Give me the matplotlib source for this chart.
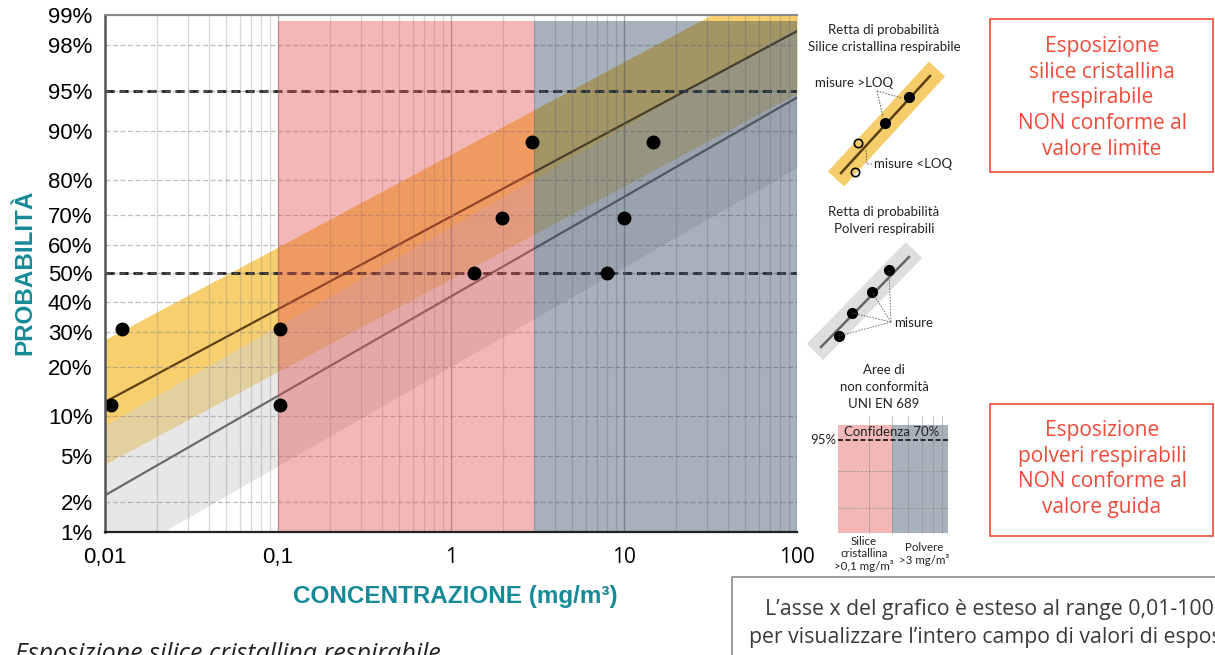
import math
import numpy as np
import matplotlib
matplotlib.use("Agg")
import matplotlib.pyplot as plt
from matplotlib.patches import Polygon, Rectangle
from matplotlib.ticker import FixedLocator, NullLocator, NullFormatter

# ---------------------------------------------------------------- data
# measured concentrations (mg/m3) and their plotting positions (Blom, n=5)
silica_conc = [0.0109, 0.0126, 1.36, 1.96, 2.95]
silica_prob = [0.119, 0.310, 0.500, 0.690, 0.881]
dust_conc = [0.103, 0.103, 8.0, 10.0, 14.7]
dust_prob = [0.119, 0.310, 0.500, 0.690, 0.881]

# log-normal probability lines: geometric mean, geometric std. deviation,
# half width of the confidence band (in standard-normal units)
silica_gm, silica_gsd, silica_band = 0.243, 15.8, 0.56
dust_gm, dust_gsd, dust_band = 1.70, 13.1, 0.63

# non-conformity thresholds (mg/m3)
silica_limit = 0.1
dust_limit = 3.0

x_ticks = [0.01, 0.1, 1, 10, 100]
x_tick_labels = ["0,01", "0,1", "1", "10", "100"]
y_ticks = [0.01, 0.02, 0.05, 0.10, 0.20, 0.30, 0.40, 0.50, 0.60, 0.70,
           0.80, 0.90, 0.95, 0.98, 0.99]
y_tick_labels = ["1%", "2%", "5%", "10%", "20%", "30%", "40%", "50%", "60%",
                 "70%", "80%", "90%", "95%", "98%", "99%"]
ref_levels = [0.50, 0.95]


# ------------------------------------------------- normal probability scale
_erf = np.vectorize(math.erf, otypes=[float])


def norm_cdf(z):
    z = np.asarray(z, dtype=float)
    return 0.5 * (1.0 + _erf(z / math.sqrt(2.0)))


def norm_ppf(p):
    p = np.clip(np.asarray(p, dtype=float), 1e-12, 1 - 1e-12)
    lo = np.full(p.shape, -9.0)
    hi = np.full(p.shape, 9.0)
    for _ in range(55):
        mid = 0.5 * (lo + hi)
        below = norm_cdf(mid) < p
        lo = np.where(below, mid, lo)
        hi = np.where(below, hi, mid)
    return 0.5 * (lo + hi)


def line_z(x, gm, gsd):
    return np.log(np.asarray(x, dtype=float) / gm) / np.log(gsd)


# ---------------------------------------------------------------- figure
W, H = 1215, 655
fig = plt.figure(figsize=(W / 100, H / 100), dpi=100)
fig.patch.set_facecolor("white")

ax = fig.add_axes([105 / W, (H - 532) / H, 692 / W, 517 / H])
ax.set_xscale("log")
ax.set_yscale("function", functions=(norm_ppf, norm_cdf))
ax.set_xlim(0.01, 100)
ax.set_ylim(0.01, 0.99)

xs = np.array([0.01, 100.0])

# confidence bands
zs = line_z(xs, silica_gm, silica_gsd)
ax.fill_between(xs, norm_cdf(zs - silica_band), norm_cdf(zs + silica_band),
                color="#F7CF6E", lw=0, zorder=1)
zd = line_z(xs, dust_gm, dust_gsd)
ax.fill_between(xs, norm_cdf(zd - dust_band), norm_cdf(zd + dust_band),
                color="#D1D1D1", alpha=0.5, lw=0, zorder=1.2)

# grid
ax.xaxis.set_major_locator(FixedLocator(x_ticks))
ax.xaxis.set_minor_locator(FixedLocator(
    [m * 10.0 ** k for k in range(-2, 2) for m in range(2, 10)]))
ax.xaxis.set_minor_formatter(NullFormatter())
ax.yaxis.set_major_locator(FixedLocator(y_ticks))
ax.yaxis.set_minor_locator(NullLocator())
ax.grid(axis="x", which="minor", color="#7F7F7F", alpha=0.3, lw=0.9)
ax.grid(axis="x", which="major", color="#6F6F6F", alpha=0.55, lw=1.0)
ax.grid(axis="y", which="major", color="#8C8C8C", alpha=0.55, lw=0.9,
        ls=(0, (4, 2)))
ax.set_axisbelow(False)
for gl in ax.get_xgridlines() + ax.get_ygridlines():
    gl.set_zorder(1.5)

# probability lines
ax.plot(xs, norm_cdf(zs), color="#5E4012", lw=1.6, zorder=2)
ax.plot(xs, norm_cdf(zd), color="#6A6A6A", lw=1.6, zorder=2)

# reference levels
for lvl in ref_levels:
    ax.axhline(lvl, color="#111111", lw=1.9, dashes=(3.5, 1.8), zorder=2.5)

# non-conformity areas
zone_top = 0.9885
ax.fill_between([silica_limit, dust_limit], 0.01, zone_top,
                color="#E14B4B", alpha=0.4, lw=0, zorder=3)
ax.fill_between([dust_limit, 100], 0.01, zone_top,
                color="#253E57", alpha=0.4, lw=0, zorder=3)

# measurements
ax.plot(silica_conc, silica_prob, "o", color="black", ms=9, zorder=5)
ax.plot(dust_conc, dust_prob, "o", color="black", ms=9, zorder=5)

# axes styling
ax.spines["right"].set_visible(False)
ax.spines["top"].set_color("#8A8A8A")
ax.spines["top"].set_linewidth(1.5)
ax.spines["left"].set_color("#555555")
ax.spines["left"].set_linewidth(1.8)
ax.spines["bottom"].set_color("#222222")
ax.spines["bottom"].set_linewidth(1.6)
for sp in ax.spines.values():
    sp.set_zorder(6)

ax.set_xticklabels(x_tick_labels)
ax.set_yticklabels(y_tick_labels)
ax.tick_params(axis="both", which="both", length=0)
ax.tick_params(axis="x", pad=11)
ax.tick_params(axis="y", pad=9)
for lab in ax.get_yticklabels():
    lab.set_fontfamily("Liberation Sans")
    lab.set_fontsize(16)
for lab, txt in zip(ax.get_xticklabels(), x_tick_labels):
    if txt.startswith("0"):
        lab.set_fontfamily("Liberation Sans")
        lab.set_fontsize(16)
    else:
        lab.set_fontfamily("Open Sans")
        lab.set_fontsize(15)

# ------------------------------------------------------- overlay (pixels)
ov = fig.add_axes([0, 0, 1, 1], zorder=10)
ov.set_xlim(0, W)
ov.set_ylim(H, 0)
ov.axis("off")
ov.patch.set_visible(False)

teal = "#178A97"
ov.text(25, 272, "PROBABILITÀ", rotation=90, ha="center", va="center",
        color=teal, fontsize=17.5, fontweight="bold", family="Liberation Sans")
ov.text(455, 596, "CONCENTRAZIONE (mg/m³)", ha="center", va="center",
        color=teal, fontsize=17.5, fontweight="bold", family="Liberation Sans")

small = dict(family="Lato", fontsize=9.5, color="#222222")
tiny = dict(family="Lato", fontsize=8.3, color="#222222")


def strip(p0, p1, hw, color):
    p0 = np.array(p0, float)
    p1 = np.array(p1, float)
    d = p1 - p0
    n = np.array([-d[1], d[0]]) / np.hypot(*d) * hw
    ov.add_patch(Polygon([p0 + n, p1 + n, p1 - n, p0 - n], closed=True,
                         facecolor=color, edgecolor="none"))


# legend: silica probability line
ov.text(884, 30, "Retta di probabilità", ha="center", va="center", **small)
ov.text(884, 47, "Silice cristallina respirabile", ha="center", va="center", **small)
strip((836, 179), (937, 69), 11, "#F5CD6A")
ov.plot([841, 930], [173, 76], color="#5A4010", lw=1.8)
ov.plot([885, 909], [123, 97], "o", color="black", ms=7)
ov.plot([858, 855], [143, 172], "o", mfc="none", mec="black", mew=1.2, ms=6)
ov.text(815, 83, "misure >LOQ", ha="left", va="center", **small)
ov.plot([877, 883], [91, 117], color="#555555", lw=0.6, ls=(0, (2, 1.5)))
ov.plot([877, 902], [91, 98], color="#555555", lw=0.6, ls=(0, (2, 1.5)))
ov.plot([866, 867, 872], [150, 164, 164], color="#555555", lw=0.6,
        ls=(0, (2, 1.5)))
ov.text(874, 164, "misure <LOQ", ha="left", va="center", **small)

# legend: dust probability line
ov.text(884, 212, "Retta di probabilità", ha="center", va="center", **small)
ov.text(884, 229, "Polveri respirabili", ha="center", va="center", **small)
strip((815, 352), (914, 250), 11.5, "#DEDEDE")
ov.plot([821, 909], [347, 257], color="#666666", lw=1.8)
mx = [839, 852, 872, 889]
my = [336, 313, 292, 270]
ov.plot(mx, my, "o", color="black", ms=7)
for px, py in zip(mx, my):
    ov.plot([891, px], [322, py], color="#666666", lw=0.6, ls=(0, (2, 1.5)))
ov.text(894, 323, "misure", ha="left", va="center", **small)

# legend: non-conformity areas
ov.text(884, 370, "Aree di", ha="center", va="center", **small)
ov.text(884, 387, "non conformità", ha="center", va="center", **small)
ov.text(884, 404, "UNI EN 689", ha="center", va="center", **small)
ov.add_patch(Rectangle((838, 425), 54, 108, facecolor="#F3B7B7", edgecolor="none"))
ov.add_patch(Rectangle((892, 425), 56, 108, facecolor="#A8B2BC", edgecolor="none"))
for vx in [869, 892, 908, 922, 933, 942]:
    ov.plot([vx, vx], [416, 533], color="#8A8A8A", lw=0.6, alpha=0.6)
for hy in [471, 508]:
    ov.plot([838, 948], [hy, hy], color="#8A8A8A", lw=0.6, alpha=0.7,
            ls=(0, (3, 1.5)))
ov.plot([838, 948], [440, 440], color="#111111", lw=1.2, dashes=(3, 1.5))
ov.text(836, 440, "95%", ha="right", va="center", **small)
ov.text(892, 432, "Confidenza 70%", ha="center", va="center", **small)
ov.text(864, 554, "Silice\ncristallina\n>0,1 mg/m³", ha="center", va="center",
        linespacing=1.1, **tiny)
ov.text(924, 554, "Polvere\n>3 mg/m³", ha="center", va="center",
        linespacing=1.1, **tiny)

# red notes
red = "#EF4B3A"
ov.add_patch(Rectangle((990, 19), 223, 153, facecolor="none", edgecolor=red, lw=1.2))
ov.text(1102, 98, "Esposizione\nsilice cristallina\nrespirabile\nNON conforme al\nvalore limite",
        ha="center", va="center", color=red, family="Open Sans", fontsize=15,
        linespacing=1.3)
ov.add_patch(Rectangle((990, 404), 223, 132, facecolor="none", edgecolor=red, lw=1.2))
ov.text(1102, 469, "Esposizione\npolveri respirabili\nNON conforme al\nvalore guida",
        ha="center", va="center", color=red, family="Open Sans", fontsize=15,
        linespacing=1.3)

# bottom notes
ov.plot([732, 732, W + 5], [H + 5, 577, 577], color="#8C8C8C", lw=1.2)
ov.text(765, 609, "L’asse x del grafico è esteso al range 0,01-100",
        ha="left", va="center", color="#3A3A3A", family="Open Sans", fontsize=15.3)
ov.text(749, 637, "per visualizzare l’intero campo di valori di esposizione",
        ha="left", va="center", color="#3A3A3A", family="Open Sans", fontsize=15.3)
ov.text(15, 661, "Esposizione silice cristallina respirabile", ha="left",
        va="baseline", color="#222222", family="Open Sans", style="italic",
        fontsize=18)

fig.savefig("out.png", dpi=100, facecolor="white")
